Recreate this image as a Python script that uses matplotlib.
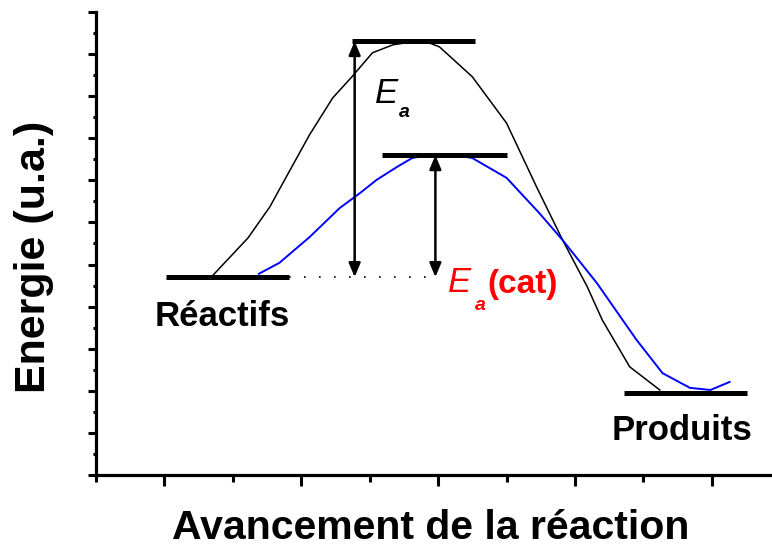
import matplotlib.pyplot as plt
from matplotlib.ticker import MultipleLocator

plt.rcParams['font.family'] = ['Liberation Sans', 'DejaVu Sans']

# niveaux d'energie : x debut, x fin, energie
reactifs = [1.01, 1.91, 4.70]
ts_sans_cat = [2.37, 3.27, 10.31]
ts_cat = [2.59, 3.50, 7.60]
produits = [4.36, 5.26, 1.95]

# chemin sans catalyseur (noir)
x_sans_cat = [1.35, 1.61, 1.77, 1.89, 2.06, 2.23, 2.37, 2.52, 2.67, 2.81, 2.90,
              3.01, 3.25, 3.50, 3.72, 3.91, 4.09, 4.20, 4.40, 4.62]
y_sans_cat = [4.73, 5.63, 6.37, 7.08, 8.08, 8.96, 9.46, 10.03, 10.22, 10.29, 10.31,
              10.17, 9.46, 8.36, 6.84, 5.58, 4.47, 3.68, 2.57, 2.02]

# chemin catalyse (bleu)
x_cat = [1.69, 1.84, 2.06, 2.28, 2.43, 2.55, 2.70, 2.81, 2.90, 3.16, 3.25,
         3.50, 3.74, 3.91, 4.16, 4.45, 4.64, 4.84, 4.99, 5.13]
y_cat = [4.78, 5.04, 5.65, 6.34, 6.70, 7.01, 7.32, 7.53, 7.58, 7.58, 7.53,
         7.06, 6.22, 5.58, 4.56, 3.21, 2.42, 2.07, 2.02, 2.21]

# position des fleches
x_fleche_ea = 2.39
x_fleche_cat = 2.98

fig = plt.figure(figsize=(7.72, 5.49), dpi=100)
ax = fig.add_axes([0.1244, 0.1348, 0.8756, 0.8434])

ax.plot(x_sans_cat, y_sans_cat, color='black', lw=1.1, zorder=2)
ax.plot(x_cat, y_cat, color='#0000ff', lw=1.4, zorder=2)

for niv in [reactifs, ts_sans_cat, ts_cat, produits]:
    ax.plot(niv[:2], [niv[2], niv[2]], color='black', lw=3.6, zorder=3,
            solid_capstyle='butt')

ax.plot([reactifs[1], x_fleche_cat], [reactifs[2], reactifs[2]], color='black',
        lw=1.2, ls=(0, (1, 8)), zorder=2)

style = '<|-|>,head_length=0.6,head_width=0.25'
ax.annotate('', xy=(x_fleche_ea, ts_sans_cat[2]), xytext=(x_fleche_ea, reactifs[2]),
            arrowprops=dict(arrowstyle=style, color='black', lw=1.8,
                            shrinkA=0, shrinkB=0, mutation_scale=14), zorder=4)
ax.annotate('', xy=(x_fleche_cat, ts_cat[2]), xytext=(x_fleche_cat, reactifs[2]),
            arrowprops=dict(arrowstyle=style, color='black', lw=1.8,
                            shrinkA=0, shrinkB=0, mutation_scale=14), zorder=4)

# textes
ax.text(2.535, 8.84, 'E', fontsize=25, style='italic', va='baseline')
ax.text(2.711, 8.51, 'a', fontsize=14, style='italic', weight='bold', va='baseline')
ax.text(3.07, 4.35, 'E', fontsize=25, style='italic', color='red', va='baseline')
ax.text(3.266, 3.92, 'a', fontsize=14, style='italic', weight='bold', color='red',
        va='baseline')
ax.text(3.36, 4.32, '(cat)', fontsize=24, weight='bold', color='red', va='baseline')
ax.text(0.926, 3.54, 'Réactifs', fontsize=25, weight='bold', va='baseline')
ax.text(4.268, 0.83, 'Produits', fontsize=25, weight='bold', va='baseline',
        clip_on=False)

fig.text(172 / 772, 1 - 539 / 549, 'Avancement de la réaction', fontsize=29.5,
         weight='bold', ha='left', va='baseline')
fig.text(45 / 772, 1 - 393 / 549, 'Energie (u.a.)', fontsize=31, weight='bold',
         rotation=90, rotation_mode='anchor', ha='left', va='baseline')

ax.set_xlim(0.5, 5.44)
ax.set_ylim(0, 11)
ax.xaxis.set_major_locator(MultipleLocator(1))
ax.xaxis.set_minor_locator(MultipleLocator(0.5))
ax.yaxis.set_major_locator(MultipleLocator(1))
ax.yaxis.set_minor_locator(MultipleLocator(0.5))
ax.set_xticklabels([])
ax.set_yticklabels([])
ax.tick_params(axis='x', which='major', length=8, width=2.2, direction='out')
ax.tick_params(axis='x', which='minor', length=5, width=2.2, direction='out')
ax.tick_params(axis='y', which='major', length=6, width=2.2, direction='out')
ax.tick_params(axis='y', which='minor', length=2.5, width=2.2, direction='out')
for s in ['top', 'right']:
    ax.spines[s].set_visible(False)
for s in ['left', 'bottom']:
    ax.spines[s].set_linewidth(2.3)

fig.savefig('out.png', dpi=100)
